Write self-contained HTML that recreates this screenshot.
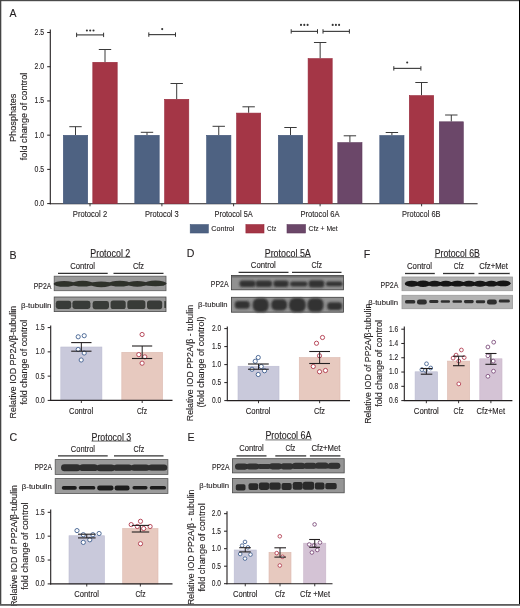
<!DOCTYPE html>
<html><head><meta charset="utf-8"><style>
html,body{margin:0;padding:0;background:#fff;}
svg{display:block;font-family:"Liberation Sans", sans-serif;will-change:transform;}
text{stroke:#231f20;stroke-width:0.12px;}
</style></head><body>
<svg width="520" height="608" viewBox="0 0 520 608">
<defs>
<filter id="bl" x="-20%" y="-50%" width="140%" height="200%"><feGaussianBlur stdDeviation="0.7"/></filter>
<filter id="bl3" x="-20%" y="-50%" width="140%" height="200%"><feGaussianBlur stdDeviation="1.0"/></filter>
<filter id="bl2" x="-20%" y="-50%" width="140%" height="200%"><feGaussianBlur stdDeviation="0.45"/></filter>
</defs>
<rect x="0" y="0" width="520" height="608" fill="#fff"/>
<text x="9.6" y="17" font-size="11.2" text-anchor="start" fill="#231f20" textLength="7" lengthAdjust="spacingAndGlyphs">A</text>
<line x1="50.3" y1="29.6" x2="50.3" y2="204.2" stroke="#231f20" stroke-width="1.1"/>
<line x1="47.2" y1="203.6" x2="50.3" y2="203.6" stroke="#231f20" stroke-width="1"/>
<text x="44.2" y="206.1" font-size="8.3" text-anchor="end" fill="#231f20" textLength="9.6" lengthAdjust="spacingAndGlyphs">0.0</text>
<line x1="47.2" y1="169.38" x2="50.3" y2="169.38" stroke="#231f20" stroke-width="1"/>
<text x="44.2" y="171.88" font-size="8.3" text-anchor="end" fill="#231f20" textLength="9.6" lengthAdjust="spacingAndGlyphs">0.5</text>
<line x1="47.2" y1="135.16" x2="50.3" y2="135.16" stroke="#231f20" stroke-width="1"/>
<text x="44.2" y="137.66" font-size="8.3" text-anchor="end" fill="#231f20" textLength="9.6" lengthAdjust="spacingAndGlyphs">1.0</text>
<line x1="47.2" y1="100.94" x2="50.3" y2="100.94" stroke="#231f20" stroke-width="1"/>
<text x="44.2" y="103.44" font-size="8.3" text-anchor="end" fill="#231f20" textLength="9.6" lengthAdjust="spacingAndGlyphs">1.5</text>
<line x1="47.2" y1="66.72" x2="50.3" y2="66.72" stroke="#231f20" stroke-width="1"/>
<text x="44.2" y="69.22" font-size="8.3" text-anchor="end" fill="#231f20" textLength="9.6" lengthAdjust="spacingAndGlyphs">2.0</text>
<line x1="47.2" y1="32.5" x2="50.3" y2="32.5" stroke="#231f20" stroke-width="1"/>
<text x="44.2" y="35.0" font-size="8.3" text-anchor="end" fill="#231f20" textLength="9.6" lengthAdjust="spacingAndGlyphs">2.5</text>
<line x1="49.8" y1="203.8" x2="477.6" y2="203.8" stroke="#231f20" stroke-width="1.1"/>
<line x1="90.0" y1="203.8" x2="90.0" y2="206.3" stroke="#231f20" stroke-width="0.9"/>
<line x1="161.9" y1="203.8" x2="161.9" y2="206.3" stroke="#231f20" stroke-width="0.9"/>
<line x1="233.6" y1="203.8" x2="233.6" y2="206.3" stroke="#231f20" stroke-width="0.9"/>
<line x1="320.1" y1="203.8" x2="320.1" y2="206.3" stroke="#231f20" stroke-width="0.9"/>
<line x1="421.6" y1="203.8" x2="421.6" y2="206.3" stroke="#231f20" stroke-width="0.9"/>
<line x1="75.5" y1="135.0" x2="75.5" y2="126.7" stroke="#3a3a3a" stroke-width="1.0"/>
<line x1="69.3" y1="126.7" x2="81.7" y2="126.7" stroke="#3a3a3a" stroke-width="1.0"/>
<rect x="63.3" y="135.3" width="24.4" height="68.3" fill="#4e6282" stroke="#425679" stroke-width="0.6"/>
<line x1="105.0" y1="62.0" x2="105.0" y2="49.5" stroke="#3a3a3a" stroke-width="1.0"/>
<line x1="98.8" y1="49.5" x2="111.2" y2="49.5" stroke="#3a3a3a" stroke-width="1.0"/>
<rect x="92.8" y="62.3" width="24.4" height="141.29999999999998" fill="#a43646" stroke="#98283a" stroke-width="0.6"/>
<line x1="147.0" y1="135.0" x2="147.0" y2="132.3" stroke="#3a3a3a" stroke-width="1.0"/>
<line x1="140.8" y1="132.3" x2="153.2" y2="132.3" stroke="#3a3a3a" stroke-width="1.0"/>
<rect x="134.8" y="135.3" width="24.4" height="68.3" fill="#4e6282" stroke="#425679" stroke-width="0.6"/>
<line x1="176.7" y1="99.0" x2="176.7" y2="83.5" stroke="#3a3a3a" stroke-width="1.0"/>
<line x1="170.5" y1="83.5" x2="182.89999999999998" y2="83.5" stroke="#3a3a3a" stroke-width="1.0"/>
<rect x="164.60000000000002" y="99.3" width="24.19999999999998" height="104.3" fill="#a43646" stroke="#98283a" stroke-width="0.6"/>
<line x1="218.75" y1="135.0" x2="218.75" y2="126.3" stroke="#3a3a3a" stroke-width="1.0"/>
<line x1="212.55" y1="126.3" x2="224.95" y2="126.3" stroke="#3a3a3a" stroke-width="1.0"/>
<rect x="206.60000000000002" y="135.3" width="24.299999999999976" height="68.3" fill="#4e6282" stroke="#425679" stroke-width="0.6"/>
<line x1="248.65" y1="112.8" x2="248.65" y2="106.8" stroke="#3a3a3a" stroke-width="1.0"/>
<line x1="242.45000000000002" y1="106.8" x2="254.85" y2="106.8" stroke="#3a3a3a" stroke-width="1.0"/>
<rect x="236.60000000000002" y="113.1" width="24.099999999999987" height="90.5" fill="#a43646" stroke="#98283a" stroke-width="0.6"/>
<line x1="290.5" y1="135.0" x2="290.5" y2="127.5" stroke="#3a3a3a" stroke-width="1.0"/>
<line x1="284.3" y1="127.5" x2="296.7" y2="127.5" stroke="#3a3a3a" stroke-width="1.0"/>
<rect x="278.3" y="135.3" width="24.4" height="68.3" fill="#4e6282" stroke="#425679" stroke-width="0.6"/>
<line x1="320.15" y1="58.3" x2="320.15" y2="42.5" stroke="#3a3a3a" stroke-width="1.0"/>
<line x1="313.95" y1="42.5" x2="326.34999999999997" y2="42.5" stroke="#3a3a3a" stroke-width="1.0"/>
<rect x="308.1" y="58.599999999999994" width="24.099999999999987" height="145.0" fill="#a43646" stroke="#98283a" stroke-width="0.6"/>
<line x1="349.9" y1="142.3" x2="349.9" y2="135.8" stroke="#3a3a3a" stroke-width="1.0"/>
<line x1="343.7" y1="135.8" x2="356.09999999999997" y2="135.8" stroke="#3a3a3a" stroke-width="1.0"/>
<rect x="337.8" y="142.60000000000002" width="24.20000000000001" height="60.999999999999986" fill="#6b4769" stroke="#5e3a5d" stroke-width="0.6"/>
<line x1="391.9" y1="135.2" x2="391.9" y2="132.5" stroke="#3a3a3a" stroke-width="1.0"/>
<line x1="385.7" y1="132.5" x2="398.09999999999997" y2="132.5" stroke="#3a3a3a" stroke-width="1.0"/>
<rect x="379.8" y="135.5" width="24.20000000000001" height="68.10000000000001" fill="#4e6282" stroke="#425679" stroke-width="0.6"/>
<line x1="421.5" y1="95.3" x2="421.5" y2="82.5" stroke="#3a3a3a" stroke-width="1.0"/>
<line x1="415.3" y1="82.5" x2="427.7" y2="82.5" stroke="#3a3a3a" stroke-width="1.0"/>
<rect x="409.3" y="95.6" width="24.4" height="108.0" fill="#a43646" stroke="#98283a" stroke-width="0.6"/>
<line x1="451.3" y1="121.5" x2="451.3" y2="115.0" stroke="#3a3a3a" stroke-width="1.0"/>
<line x1="445.1" y1="115.0" x2="457.5" y2="115.0" stroke="#3a3a3a" stroke-width="1.0"/>
<rect x="439.3" y="121.8" width="24.00000000000002" height="81.8" fill="#6b4769" stroke="#5e3a5d" stroke-width="0.6"/>
<line x1="76.6" y1="34.9" x2="103.6" y2="34.9" stroke="#444" stroke-width="1.2"/>
<line x1="76.6" y1="32.699999999999996" x2="76.6" y2="37.1" stroke="#333" stroke-width="1.0"/>
<line x1="103.6" y1="32.699999999999996" x2="103.6" y2="37.1" stroke="#333" stroke-width="1.0"/>
<circle cx="86.9" cy="30.45" r="1.05" fill="#333"/>
<circle cx="90.2" cy="30.45" r="1.05" fill="#333"/>
<circle cx="93.5" cy="30.45" r="1.05" fill="#333"/>
<line x1="148.8" y1="34.6" x2="175.5" y2="34.6" stroke="#444" stroke-width="1.2"/>
<line x1="148.8" y1="32.4" x2="148.8" y2="36.800000000000004" stroke="#333" stroke-width="1.0"/>
<line x1="175.5" y1="32.4" x2="175.5" y2="36.800000000000004" stroke="#333" stroke-width="1.0"/>
<circle cx="162.2" cy="29.1" r="1.05" fill="#333"/>
<line x1="291.2" y1="31.4" x2="317.5" y2="31.4" stroke="#444" stroke-width="1.2"/>
<line x1="291.2" y1="29.2" x2="291.2" y2="33.6" stroke="#333" stroke-width="1.0"/>
<line x1="317.5" y1="29.2" x2="317.5" y2="33.6" stroke="#333" stroke-width="1.0"/>
<circle cx="301.0" cy="24.9" r="1.05" fill="#333"/>
<circle cx="304.3" cy="24.9" r="1.05" fill="#333"/>
<circle cx="307.6" cy="24.9" r="1.05" fill="#333"/>
<line x1="323.0" y1="31.4" x2="349.4" y2="31.4" stroke="#444" stroke-width="1.2"/>
<line x1="323.0" y1="29.2" x2="323.0" y2="33.6" stroke="#333" stroke-width="1.0"/>
<line x1="349.4" y1="29.2" x2="349.4" y2="33.6" stroke="#333" stroke-width="1.0"/>
<circle cx="332.7" cy="24.9" r="1.05" fill="#333"/>
<circle cx="335.9" cy="24.9" r="1.05" fill="#333"/>
<circle cx="339.1" cy="24.9" r="1.05" fill="#333"/>
<line x1="393.8" y1="68.4" x2="420.9" y2="68.4" stroke="#444" stroke-width="1.2"/>
<line x1="393.8" y1="66.2" x2="393.8" y2="70.60000000000001" stroke="#333" stroke-width="1.0"/>
<line x1="420.9" y1="66.2" x2="420.9" y2="70.60000000000001" stroke="#333" stroke-width="1.0"/>
<circle cx="407.2" cy="62.5" r="1.05" fill="#333"/>
<text x="90.0" y="217.0" font-size="8.9" text-anchor="middle" fill="#231f20" textLength="34.3" lengthAdjust="spacingAndGlyphs">Protocol 2</text>
<text x="161.9" y="217.0" font-size="8.9" text-anchor="middle" fill="#231f20" textLength="33.8" lengthAdjust="spacingAndGlyphs">Protocol 3</text>
<text x="233.6" y="217.0" font-size="8.9" text-anchor="middle" fill="#231f20" textLength="38.2" lengthAdjust="spacingAndGlyphs">Protocol 5A</text>
<text x="320.0" y="217.0" font-size="8.9" text-anchor="middle" fill="#231f20" textLength="39.0" lengthAdjust="spacingAndGlyphs">Protocol 6A</text>
<text x="421.3" y="217.0" font-size="8.9" text-anchor="middle" fill="#231f20" textLength="38.5" lengthAdjust="spacingAndGlyphs">Protocol 6B</text>
<rect x="190.2" y="224.6" width="18.1" height="8.4" fill="#4e6282" stroke="#425679" stroke-width="0.6"/>
<text x="211.3" y="230.9" font-size="7.8" text-anchor="start" fill="#231f20" textLength="23.1" lengthAdjust="spacingAndGlyphs">Control</text>
<rect x="245.9" y="224.6" width="18.1" height="8.4" fill="#a43646" stroke="#98283a" stroke-width="0.6"/>
<text x="267.0" y="230.9" font-size="7.8" text-anchor="start" fill="#231f20" textLength="9.3" lengthAdjust="spacingAndGlyphs">Cfz</text>
<rect x="287.0" y="224.6" width="18.5" height="8.4" fill="#6b4769" stroke="#5e3a5d" stroke-width="0.6"/>
<text x="308.5" y="230.9" font-size="7.8" text-anchor="start" fill="#231f20" textLength="29.2" lengthAdjust="spacingAndGlyphs">Cfz + Met</text>
<text x="16.3" y="117.8" font-size="8.9" text-anchor="middle" fill="#231f20" textLength="48.4" lengthAdjust="spacingAndGlyphs" transform="rotate(-90 16.3 117.8)">Phosphates</text>
<text x="27.1" y="116.5" font-size="8.9" text-anchor="middle" fill="#231f20" textLength="87.5" lengthAdjust="spacingAndGlyphs" transform="rotate(-90 27.1 116.5)">fold change of control</text>
<text x="9.5" y="258.6" font-size="10.6" text-anchor="start" fill="#231f20">B</text>
<text x="110.30000000000001" y="256.7" font-size="10.2" text-anchor="middle" fill="#231f20" textLength="40.000000000000014" lengthAdjust="spacingAndGlyphs">Protocol 2</text>
<line x1="90.3" y1="257.3" x2="130.3" y2="257.3" stroke="#444" stroke-width="0.8"/>
<text x="82.65" y="268.79999999999995" font-size="8.2" text-anchor="middle" fill="#231f20" textLength="24.700000000000003" lengthAdjust="spacingAndGlyphs">Control</text>
<text x="138.5" y="268.79999999999995" font-size="8.2" text-anchor="middle" fill="#231f20" textLength="11.0" lengthAdjust="spacingAndGlyphs">Cfz</text>
<line x1="58.0" y1="273.3" x2="107.7" y2="273.3" stroke="#333" stroke-width="1.3"/>
<line x1="113.5" y1="273.3" x2="163.5" y2="273.3" stroke="#333" stroke-width="1.3"/>
<rect x="54.2" y="276.2" width="111.8" height="14.5" fill="#9a9a9a" stroke="#5a5a5a" stroke-width="0.8"/>
<rect x="55.5" y="282.6" width="109.69999999999999" height="2.7999999999999545" rx="1.5" fill="#2f302c" filter="url(#bl)"/>
<ellipse cx="64.20" cy="283.90" rx="10.60" ry="2.90" fill="#2f302c" filter="url(#bl)"/>
<ellipse cx="82.60" cy="283.70" rx="10.80" ry="2.90" fill="#2f302c" filter="url(#bl)"/>
<ellipse cx="101.20" cy="284.30" rx="10.80" ry="2.90" fill="#2f302c" filter="url(#bl)"/>
<ellipse cx="119.70" cy="283.60" rx="10.70" ry="2.90" fill="#2f302c" filter="url(#bl)"/>
<ellipse cx="137.30" cy="283.85" rx="9.90" ry="2.85" fill="#2f302c" filter="url(#bl)"/>
<ellipse cx="155.50" cy="283.40" rx="11.10" ry="2.80" fill="#2f302c" filter="url(#bl)"/>
<rect x="54.2" y="297.0" width="111.8" height="14.600000000000023" fill="#9a9a9a" stroke="#4a4a4a" stroke-width="0.8"/>
<rect x="55.8" y="300.8" width="15.400000000000006" height="8.199999999999989" rx="2.46" ry="2.46" fill="#393b37" filter="url(#bl)"/>
<rect x="72.4" y="300.7" width="18.0" height="8.300000000000011" rx="2.49" ry="2.49" fill="#393b37" filter="url(#bl)"/>
<rect x="92.6" y="301.0" width="16.400000000000006" height="8.199999999999989" rx="2.46" ry="2.46" fill="#393b37" filter="url(#bl)"/>
<rect x="110.6" y="300.4" width="15.100000000000009" height="8.600000000000023" rx="2.58" ry="2.58" fill="#393b37" filter="url(#bl)"/>
<rect x="127.3" y="300.3" width="18.10000000000001" height="8.699999999999989" rx="2.61" ry="2.61" fill="#393b37" filter="url(#bl)"/>
<rect x="147.0" y="300.6" width="15.199999999999989" height="8.599999999999966" rx="2.58" ry="2.58" fill="#393b37" filter="url(#bl)"/>
<rect x="164.3" y="301" width="1.6999999999999886" height="7" rx="0.51" ry="0.51" fill="#393b37" filter="url(#bl)"/>
<text x="51.4" y="289.4" font-size="8.2" text-anchor="end" fill="#231f20" textLength="17.7" lengthAdjust="spacingAndGlyphs">PP2A</text>
<text x="51.5" y="307.7" font-size="7.6" text-anchor="end" fill="#231f20" textLength="30.6" lengthAdjust="spacingAndGlyphs">β-tubulin</text>
<rect x="60.8" y="347.0" width="41.10000000000001" height="53.39999999999998" fill="#c9c9db" stroke="#bcbcd2" stroke-width="0.6"/>
<rect x="121.8" y="352.3" width="40.8" height="48.099999999999966" fill="#e7c9bf" stroke="#dcbab0" stroke-width="0.6"/>
<line x1="50.7" y1="325.4" x2="50.7" y2="400.9" stroke="#231f20" stroke-width="1.1"/>
<line x1="50.2" y1="400.4" x2="172.5" y2="400.4" stroke="#231f20" stroke-width="1.1"/>
<line x1="47.7" y1="400.4" x2="50.7" y2="400.4" stroke="#231f20" stroke-width="1"/>
<text x="44.7" y="402.79999999999995" font-size="8.3" text-anchor="end" fill="#231f20" textLength="9.2" lengthAdjust="spacingAndGlyphs">0.0</text>
<line x1="47.7" y1="376.135" x2="50.7" y2="376.135" stroke="#231f20" stroke-width="1"/>
<text x="44.7" y="378.53499999999997" font-size="8.3" text-anchor="end" fill="#231f20" textLength="9.2" lengthAdjust="spacingAndGlyphs">0.5</text>
<line x1="47.7" y1="351.87" x2="50.7" y2="351.87" stroke="#231f20" stroke-width="1"/>
<text x="44.7" y="354.27" font-size="8.3" text-anchor="end" fill="#231f20" textLength="9.2" lengthAdjust="spacingAndGlyphs">1.0</text>
<line x1="47.7" y1="327.60499999999996" x2="50.7" y2="327.60499999999996" stroke="#231f20" stroke-width="1"/>
<text x="44.7" y="330.00499999999994" font-size="8.3" text-anchor="end" fill="#231f20" textLength="9.2" lengthAdjust="spacingAndGlyphs">1.5</text>
<line x1="81.35" y1="400.4" x2="81.35" y2="403.0" stroke="#231f20" stroke-width="0.9"/>
<circle cx="78.2" cy="336.8" r="2.1" fill="#fff" stroke="#3f5f8f" stroke-width="0.9"/>
<circle cx="84.2" cy="335.7" r="2.1" fill="#fff" stroke="#3f5f8f" stroke-width="0.9"/>
<circle cx="78.2" cy="349.5" r="2.1" fill="#fff" stroke="#3f5f8f" stroke-width="0.9"/>
<circle cx="84.2" cy="353.0" r="2.1" fill="#fff" stroke="#3f5f8f" stroke-width="0.9"/>
<circle cx="81.2" cy="360.0" r="2.1" fill="#fff" stroke="#3f5f8f" stroke-width="0.9"/>
<line x1="81.35" y1="342.6" x2="81.35" y2="351.2" stroke="#231f20" stroke-width="1.0"/>
<line x1="71.2" y1="342.6" x2="91.5" y2="342.6" stroke="#231f20" stroke-width="1.1"/>
<line x1="71.2" y1="351.2" x2="91.5" y2="351.2" stroke="#231f20" stroke-width="1.1"/>
<line x1="142.2" y1="400.4" x2="142.2" y2="403.0" stroke="#231f20" stroke-width="0.9"/>
<circle cx="142.1" cy="334.5" r="2.1" fill="#fff" stroke="#b0384b" stroke-width="0.9"/>
<circle cx="138.8" cy="354.6" r="2.1" fill="#fff" stroke="#b0384b" stroke-width="0.9"/>
<circle cx="144.8" cy="356.9" r="2.1" fill="#fff" stroke="#b0384b" stroke-width="0.9"/>
<circle cx="142.1" cy="363.2" r="2.1" fill="#fff" stroke="#b0384b" stroke-width="0.9"/>
<line x1="142.2" y1="346.0" x2="142.2" y2="358.5" stroke="#231f20" stroke-width="1.0"/>
<line x1="132.0" y1="346.0" x2="152.2" y2="346.0" stroke="#231f20" stroke-width="1.1"/>
<line x1="132.0" y1="358.5" x2="152.2" y2="358.5" stroke="#231f20" stroke-width="1.1"/>
<text x="81.1" y="413.5" font-size="8.2" text-anchor="middle" fill="#231f20" textLength="24.3" lengthAdjust="spacingAndGlyphs">Control</text>
<text x="142.0" y="413.5" font-size="8.2" text-anchor="middle" fill="#231f20" textLength="10.0" lengthAdjust="spacingAndGlyphs">Cfz</text>
<text x="16.5" y="362.15" font-size="9.0" text-anchor="middle" fill="#231f20" textLength="112.5" lengthAdjust="spacingAndGlyphs" transform="rotate(-90 16.5 362.15)">Relative IOD PP2A/β-tubulin</text>
<text x="27.5" y="362.15" font-size="9.0" text-anchor="middle" fill="#231f20" textLength="84.9" lengthAdjust="spacingAndGlyphs" transform="rotate(-90 27.5 362.15)">fold change of control</text>
<text x="9.5" y="441.3" font-size="10.6" text-anchor="start" fill="#231f20">C</text>
<text x="111.35" y="440.5" font-size="10.2" text-anchor="middle" fill="#231f20" textLength="39.69999999999999" lengthAdjust="spacingAndGlyphs">Protocol 3</text>
<line x1="91.5" y1="441.1" x2="131.2" y2="441.1" stroke="#444" stroke-width="0.8"/>
<text x="82.9" y="451.79999999999995" font-size="8.2" text-anchor="middle" fill="#231f20" textLength="24.200000000000003" lengthAdjust="spacingAndGlyphs">Control</text>
<text x="138.85" y="451.79999999999995" font-size="8.2" text-anchor="middle" fill="#231f20" textLength="10.699999999999989" lengthAdjust="spacingAndGlyphs">Cfz</text>
<line x1="58.0" y1="455.8" x2="107.7" y2="455.8" stroke="#333" stroke-width="1.3"/>
<line x1="114.0" y1="455.8" x2="163.5" y2="455.8" stroke="#333" stroke-width="1.3"/>
<rect x="55.2" y="459.6" width="112.7" height="14.799999999999955" fill="#9b9b9b" stroke="#555" stroke-width="0.8"/>
<rect x="62.0" y="465.4" width="104.80000000000001" height="4.800000000000011" rx="1.5" fill="#2e2e2e" filter="url(#bl)"/>
<rect x="61.0" y="464.3" width="19.400000000000006" height="6.899999999999977" rx="3.45" ry="3.45" fill="#2e2e2e" filter="url(#bl)"/>
<rect x="79.4" y="464.3" width="18.39999999999999" height="6.699999999999989" rx="3.35" ry="3.35" fill="#2e2e2e" filter="url(#bl)"/>
<rect x="96.8" y="464.6" width="18.0" height="6.599999999999966" rx="3.30" ry="3.30" fill="#2e2e2e" filter="url(#bl)"/>
<rect x="113.6" y="464.5" width="18.400000000000006" height="6.300000000000011" rx="3.15" ry="3.15" fill="#2e2e2e" filter="url(#bl)"/>
<rect x="131.0" y="464.4" width="18.400000000000006" height="6.400000000000034" rx="3.20" ry="3.20" fill="#2e2e2e" filter="url(#bl)"/>
<rect x="148.4" y="464.6" width="18.799999999999983" height="6.0" rx="3.00" ry="3.00" fill="#2e2e2e" filter="url(#bl)"/>
<rect x="55.2" y="478.6" width="112.7" height="14.899999999999977" fill="#9b9b9b" stroke="#555" stroke-width="0.8"/>
<rect x="61.8" y="486.0" width="15.0" height="3.8000000000000114" rx="1.71" ry="1.71" fill="#1e1e1e" filter="url(#bl2)"/>
<rect x="78.8" y="486.0" width="16.5" height="3.6000000000000227" rx="1.62" ry="1.62" fill="#1e1e1e" filter="url(#bl2)"/>
<rect x="97.2" y="485.6" width="16.299999999999997" height="4.7999999999999545" rx="2.16" ry="2.16" fill="#1e1e1e" filter="url(#bl2)"/>
<rect x="114.6" y="485.4" width="15.0" height="5.2000000000000455" rx="2.34" ry="2.34" fill="#1e1e1e" filter="url(#bl2)"/>
<rect x="132.5" y="486.0" width="15.0" height="3.3999999999999773" rx="1.53" ry="1.53" fill="#1e1e1e" filter="url(#bl2)"/>
<rect x="149.8" y="486.0" width="16.19999999999999" height="3.6000000000000227" rx="1.62" ry="1.62" fill="#1e1e1e" filter="url(#bl2)"/>
<text x="51.9" y="469.5" font-size="8.2" text-anchor="end" fill="#231f20" textLength="17.3" lengthAdjust="spacingAndGlyphs">PP2A</text>
<text x="51.9" y="489.1" font-size="7.6" text-anchor="end" fill="#231f20" textLength="30.1" lengthAdjust="spacingAndGlyphs">β-tubulin</text>
<rect x="69.0" y="535.75" width="35.5" height="48.14999999999998" fill="#c9c9db" stroke="#bcbcd2" stroke-width="0.6"/>
<rect x="122.7" y="528.5" width="35.3" height="55.39999999999998" fill="#e7c9bf" stroke="#dcbab0" stroke-width="0.6"/>
<line x1="50.7" y1="509.5" x2="50.7" y2="584.4" stroke="#231f20" stroke-width="1.1"/>
<line x1="50.2" y1="583.9" x2="172.5" y2="583.9" stroke="#231f20" stroke-width="1.1"/>
<line x1="47.7" y1="583.9" x2="50.7" y2="583.9" stroke="#231f20" stroke-width="1"/>
<text x="44.7" y="586.3" font-size="8.3" text-anchor="end" fill="#231f20" textLength="9.2" lengthAdjust="spacingAndGlyphs">0.0</text>
<line x1="47.7" y1="560.035" x2="50.7" y2="560.035" stroke="#231f20" stroke-width="1"/>
<text x="44.7" y="562.435" font-size="8.3" text-anchor="end" fill="#231f20" textLength="9.2" lengthAdjust="spacingAndGlyphs">0.5</text>
<line x1="47.7" y1="536.17" x2="50.7" y2="536.17" stroke="#231f20" stroke-width="1"/>
<text x="44.7" y="538.5699999999999" font-size="8.3" text-anchor="end" fill="#231f20" textLength="9.2" lengthAdjust="spacingAndGlyphs">1.0</text>
<line x1="47.7" y1="512.305" x2="50.7" y2="512.305" stroke="#231f20" stroke-width="1"/>
<text x="44.7" y="514.7049999999999" font-size="8.3" text-anchor="end" fill="#231f20" textLength="9.2" lengthAdjust="spacingAndGlyphs">1.5</text>
<line x1="86.75" y1="583.9" x2="86.75" y2="586.5" stroke="#231f20" stroke-width="0.9"/>
<circle cx="77.0" cy="530.6" r="2.1" fill="#fff" stroke="#3f5f8f" stroke-width="0.9"/>
<circle cx="83.3" cy="534.7" r="2.1" fill="#fff" stroke="#3f5f8f" stroke-width="0.9"/>
<circle cx="92.9" cy="534.7" r="2.1" fill="#fff" stroke="#3f5f8f" stroke-width="0.9"/>
<circle cx="99.1" cy="533.5" r="2.1" fill="#fff" stroke="#3f5f8f" stroke-width="0.9"/>
<circle cx="89.8" cy="539.8" r="2.1" fill="#fff" stroke="#3f5f8f" stroke-width="0.9"/>
<circle cx="83.3" cy="542.4" r="2.1" fill="#fff" stroke="#3f5f8f" stroke-width="0.9"/>
<line x1="86.75" y1="534.2" x2="86.75" y2="537.9" stroke="#231f20" stroke-width="1.0"/>
<line x1="78.0" y1="534.2" x2="95.6" y2="534.2" stroke="#231f20" stroke-width="1.1"/>
<line x1="78.0" y1="537.9" x2="95.6" y2="537.9" stroke="#231f20" stroke-width="1.1"/>
<line x1="140.35" y1="583.9" x2="140.35" y2="586.5" stroke="#231f20" stroke-width="0.9"/>
<circle cx="140.5" cy="521.3" r="2.1" fill="#fff" stroke="#b0384b" stroke-width="0.9"/>
<circle cx="131.2" cy="524.6" r="2.1" fill="#fff" stroke="#b0384b" stroke-width="0.9"/>
<circle cx="137.3" cy="526.5" r="2.1" fill="#fff" stroke="#b0384b" stroke-width="0.9"/>
<circle cx="150.1" cy="526.5" r="2.1" fill="#fff" stroke="#b0384b" stroke-width="0.9"/>
<circle cx="143.7" cy="528.5" r="2.1" fill="#fff" stroke="#b0384b" stroke-width="0.9"/>
<circle cx="140.5" cy="543.7" r="2.1" fill="#fff" stroke="#b0384b" stroke-width="0.9"/>
<line x1="140.35" y1="525.4" x2="140.35" y2="532.0" stroke="#231f20" stroke-width="1.0"/>
<line x1="131.8" y1="525.4" x2="149.2" y2="525.4" stroke="#231f20" stroke-width="1.1"/>
<line x1="131.8" y1="532.0" x2="149.2" y2="532.0" stroke="#231f20" stroke-width="1.1"/>
<text x="86.6" y="596.8" font-size="8.2" text-anchor="middle" fill="#231f20" textLength="24.5" lengthAdjust="spacingAndGlyphs">Control</text>
<text x="140.5" y="596.8" font-size="8.2" text-anchor="middle" fill="#231f20" textLength="10.0" lengthAdjust="spacingAndGlyphs">Cfz</text>
<text x="17.2" y="545.9" font-size="9.0" text-anchor="middle" fill="#231f20" textLength="121.9" lengthAdjust="spacingAndGlyphs" transform="rotate(-90 17.2 545.9)">Relative IOD of PP2A/β-tubulin</text>
<text x="27.6" y="546.1" font-size="9.0" text-anchor="middle" fill="#231f20" textLength="87.4" lengthAdjust="spacingAndGlyphs" transform="rotate(-90 27.6 546.1)">fold change of control</text>
<text x="186.8" y="257.1" font-size="10.6" text-anchor="start" fill="#231f20">D</text>
<text x="287.75" y="256.7" font-size="10.2" text-anchor="middle" fill="#231f20" textLength="46.10000000000002" lengthAdjust="spacingAndGlyphs">Protocol 5A</text>
<line x1="264.7" y1="257.2" x2="310.8" y2="257.2" stroke="#444" stroke-width="0.8"/>
<text x="263.3" y="268.09999999999997" font-size="8.2" text-anchor="middle" fill="#231f20" textLength="25.0" lengthAdjust="spacingAndGlyphs">Control</text>
<text x="316.75" y="268.09999999999997" font-size="8.2" text-anchor="middle" fill="#231f20" textLength="10.5" lengthAdjust="spacingAndGlyphs">Cfz</text>
<line x1="238.6" y1="272.40000000000003" x2="288.5" y2="272.40000000000003" stroke="#333" stroke-width="1.3"/>
<line x1="292.0" y1="272.40000000000003" x2="341.5" y2="272.40000000000003" stroke="#333" stroke-width="1.3"/>
<rect x="231.4" y="275.4" width="112.1" height="14.400000000000034" fill="#919191" stroke="#3d3d3d" stroke-width="0.8"/>
<rect x="231.9" y="275.9" width="111.1" height="1.6" fill="#555" opacity="0.6"/>
<rect x="239.5" y="280.4" width="16.099999999999994" height="6.600000000000023" rx="2.64" ry="2.64" fill="#333" filter="url(#bl3)"/>
<rect x="255.6" y="280.6" width="16.400000000000006" height="6.2999999999999545" rx="2.52" ry="2.52" fill="#333" filter="url(#bl3)"/>
<rect x="273.4" y="280.4" width="15.200000000000045" height="6.600000000000023" rx="2.64" ry="2.64" fill="#333" filter="url(#bl3)"/>
<rect x="290.2" y="281.4" width="17.19999999999999" height="5.0" rx="2.00" ry="2.00" fill="#333" filter="url(#bl3)"/>
<rect x="308.6" y="280.2" width="15.799999999999955" height="7.199999999999989" rx="2.88" ry="2.88" fill="#333" filter="url(#bl3)"/>
<rect x="326.0" y="281.4" width="16.399999999999977" height="4.900000000000034" rx="1.96" ry="1.96" fill="#333" filter="url(#bl3)"/>
<rect x="231.4" y="297.3" width="112.1" height="14.899999999999977" fill="#929292" stroke="#3d3d3d" stroke-width="0.8"/>
<rect x="234.8" y="301.0" width="15.0" height="7.800000000000011" rx="3.28" ry="3.28" fill="#313131" filter="url(#bl3)"/>
<rect x="252.6" y="298.2" width="16.200000000000017" height="13.800000000000011" rx="5.80" ry="5.80" fill="#313131" filter="url(#bl3)"/>
<rect x="271.2" y="299.3" width="16.0" height="11.199999999999989" rx="4.70" ry="4.70" fill="#313131" filter="url(#bl3)"/>
<rect x="289.0" y="298.1" width="16.80000000000001" height="13.899999999999977" rx="5.84" ry="5.84" fill="#313131" filter="url(#bl3)"/>
<rect x="307.4" y="298.2" width="16.200000000000045" height="13.600000000000023" rx="5.71" ry="5.71" fill="#313131" filter="url(#bl3)"/>
<rect x="327.2" y="302.2" width="14.800000000000011" height="7.699999999999989" rx="3.23" ry="3.23" fill="#313131" filter="url(#bl3)"/>
<text x="228.6" y="287.0" font-size="8.2" text-anchor="end" fill="#231f20" textLength="17.8" lengthAdjust="spacingAndGlyphs">PP2A</text>
<text x="227.6" y="306.7" font-size="7.6" text-anchor="end" fill="#231f20" textLength="29.5" lengthAdjust="spacingAndGlyphs">β-tubulin</text>
<rect x="238.0" y="366.25" width="41.0" height="34.35000000000002" fill="#c9c9db" stroke="#bcbcd2" stroke-width="0.6"/>
<rect x="299.25" y="357.5" width="40.75" height="43.10000000000002" fill="#e7c9bf" stroke="#dcbab0" stroke-width="0.6"/>
<line x1="227.3" y1="326.5" x2="227.3" y2="401.1" stroke="#231f20" stroke-width="1.1"/>
<line x1="226.8" y1="400.6" x2="350.0" y2="400.6" stroke="#231f20" stroke-width="1.1"/>
<line x1="224.3" y1="400.6" x2="227.3" y2="400.6" stroke="#231f20" stroke-width="1"/>
<text x="221.3" y="403.0" font-size="8.3" text-anchor="end" fill="#231f20" textLength="9.2" lengthAdjust="spacingAndGlyphs">0.0</text>
<line x1="224.3" y1="382.6" x2="227.3" y2="382.6" stroke="#231f20" stroke-width="1"/>
<text x="221.3" y="385.0" font-size="8.3" text-anchor="end" fill="#231f20" textLength="9.2" lengthAdjust="spacingAndGlyphs">0.5</text>
<line x1="224.3" y1="364.6" x2="227.3" y2="364.6" stroke="#231f20" stroke-width="1"/>
<text x="221.3" y="367.0" font-size="8.3" text-anchor="end" fill="#231f20" textLength="9.2" lengthAdjust="spacingAndGlyphs">1.0</text>
<line x1="224.3" y1="346.6" x2="227.3" y2="346.6" stroke="#231f20" stroke-width="1"/>
<text x="221.3" y="349.0" font-size="8.3" text-anchor="end" fill="#231f20" textLength="9.2" lengthAdjust="spacingAndGlyphs">1.5</text>
<line x1="224.3" y1="328.6" x2="227.3" y2="328.6" stroke="#231f20" stroke-width="1"/>
<text x="221.3" y="331.0" font-size="8.3" text-anchor="end" fill="#231f20" textLength="9.2" lengthAdjust="spacingAndGlyphs">2.0</text>
<line x1="258.5" y1="400.6" x2="258.5" y2="403.20000000000005" stroke="#231f20" stroke-width="0.9"/>
<circle cx="258.25" cy="357.5" r="2.1" fill="#fff" stroke="#3f5f8f" stroke-width="0.9"/>
<circle cx="255.25" cy="361.25" r="2.1" fill="#fff" stroke="#3f5f8f" stroke-width="0.9"/>
<circle cx="261.25" cy="366.5" r="2.1" fill="#fff" stroke="#3f5f8f" stroke-width="0.9"/>
<circle cx="252.0" cy="369.25" r="2.1" fill="#fff" stroke="#3f5f8f" stroke-width="0.9"/>
<circle cx="264.5" cy="370.75" r="2.1" fill="#fff" stroke="#3f5f8f" stroke-width="0.9"/>
<circle cx="258.25" cy="374.5" r="2.1" fill="#fff" stroke="#3f5f8f" stroke-width="0.9"/>
<line x1="258.5" y1="364.0" x2="258.5" y2="369.25" stroke="#231f20" stroke-width="1.0"/>
<line x1="248.0" y1="364.0" x2="268.75" y2="364.0" stroke="#231f20" stroke-width="1.1"/>
<line x1="248.0" y1="369.25" x2="268.75" y2="369.25" stroke="#231f20" stroke-width="1.1"/>
<line x1="319.625" y1="400.6" x2="319.625" y2="403.20000000000005" stroke="#231f20" stroke-width="0.9"/>
<circle cx="322.5" cy="337.5" r="2.1" fill="#fff" stroke="#b0384b" stroke-width="0.9"/>
<circle cx="316.5" cy="343.25" r="2.1" fill="#fff" stroke="#b0384b" stroke-width="0.9"/>
<circle cx="319.5" cy="355.75" r="2.1" fill="#fff" stroke="#b0384b" stroke-width="0.9"/>
<circle cx="313.25" cy="366.5" r="2.1" fill="#fff" stroke="#b0384b" stroke-width="0.9"/>
<circle cx="319.5" cy="371.75" r="2.1" fill="#fff" stroke="#b0384b" stroke-width="0.9"/>
<circle cx="325.5" cy="370.5" r="2.1" fill="#fff" stroke="#b0384b" stroke-width="0.9"/>
<line x1="319.625" y1="351.5" x2="319.625" y2="363.5" stroke="#231f20" stroke-width="1.0"/>
<line x1="309.25" y1="351.5" x2="330.0" y2="351.5" stroke="#231f20" stroke-width="1.1"/>
<line x1="309.25" y1="363.5" x2="330.0" y2="363.5" stroke="#231f20" stroke-width="1.1"/>
<text x="258.1" y="413.75" font-size="8.2" text-anchor="middle" fill="#231f20" textLength="24.75" lengthAdjust="spacingAndGlyphs">Control</text>
<text x="319.5" y="413.75" font-size="8.2" text-anchor="middle" fill="#231f20" textLength="11.0" lengthAdjust="spacingAndGlyphs">Cfz</text>
<text x="193.1" y="363.05" font-size="9.0" text-anchor="middle" fill="#231f20" textLength="116.3" lengthAdjust="spacingAndGlyphs" transform="rotate(-90 193.1 363.05)">Relative IOD PP2A/β - tubulin</text>
<text x="203.9" y="362.0" font-size="9.0" text-anchor="middle" fill="#231f20" textLength="90.9" lengthAdjust="spacingAndGlyphs" transform="rotate(-90 203.9 362.0)">(fold change of control)</text>
<text x="187.5" y="441.0" font-size="10.6" text-anchor="start" fill="#231f20">E</text>
<text x="288.45" y="439.4" font-size="10.2" text-anchor="middle" fill="#231f20" textLength="46.10000000000002" lengthAdjust="spacingAndGlyphs">Protocol 6A</text>
<line x1="265.4" y1="439.90000000000003" x2="311.5" y2="439.90000000000003" stroke="#444" stroke-width="0.8"/>
<text x="251.55" y="451.0" font-size="8.2" text-anchor="middle" fill="#231f20" textLength="24.5" lengthAdjust="spacingAndGlyphs">Control</text>
<text x="290.45" y="451.0" font-size="8.2" text-anchor="middle" fill="#231f20" textLength="9.899999999999977" lengthAdjust="spacingAndGlyphs">Cfz</text>
<text x="325.95" y="451.0" font-size="8.2" text-anchor="middle" fill="#231f20" textLength="28.899999999999977" lengthAdjust="spacingAndGlyphs">Cfz+Met</text>
<line x1="236.5" y1="455.90000000000003" x2="266.5" y2="455.90000000000003" stroke="#333" stroke-width="1.3"/>
<line x1="275.3" y1="455.90000000000003" x2="306.2" y2="455.90000000000003" stroke="#333" stroke-width="1.3"/>
<line x1="309.9" y1="455.90000000000003" x2="340.4" y2="455.90000000000003" stroke="#333" stroke-width="1.3"/>
<rect x="232.5" y="458.7" width="111.69999999999999" height="14.199999999999989" fill="#959595" stroke="#4a4a4a" stroke-width="0.8"/>
<rect x="236.0" y="464.2" width="103.39999999999998" height="4.199999999999989" rx="1.5" fill="#303030" filter="url(#bl)"/>
<rect x="235.0" y="463.6" width="12.599999999999994" height="6.099999999999966" rx="3.05" ry="3.05" fill="#303030" filter="url(#bl)"/>
<rect x="246.4" y="463.4" width="12.599999999999994" height="6.100000000000023" rx="3.05" ry="3.05" fill="#303030" filter="url(#bl)"/>
<rect x="258.0" y="464.0" width="12.399999999999977" height="5.0" rx="2.50" ry="2.50" fill="#303030" filter="url(#bl)"/>
<rect x="269.2" y="463.3" width="12.800000000000011" height="6.099999999999966" rx="3.05" ry="3.05" fill="#303030" filter="url(#bl)"/>
<rect x="280.6" y="463.2" width="12.799999999999955" height="6.199999999999989" rx="3.10" ry="3.10" fill="#303030" filter="url(#bl)"/>
<rect x="292.2" y="462.8" width="12.800000000000011" height="6.199999999999989" rx="3.10" ry="3.10" fill="#303030" filter="url(#bl)"/>
<rect x="303.8" y="462.8" width="12.599999999999966" height="6.0" rx="3.00" ry="3.00" fill="#303030" filter="url(#bl)"/>
<rect x="315.2" y="462.6" width="13.199999999999989" height="6.0" rx="3.00" ry="3.00" fill="#303030" filter="url(#bl)"/>
<rect x="328.0" y="462.7" width="12.399999999999977" height="6.100000000000023" rx="3.05" ry="3.05" fill="#303030" filter="url(#bl)"/>
<rect x="232.5" y="478.4" width="111.69999999999999" height="14.400000000000034" fill="#959595" stroke="#4a4a4a" stroke-width="0.8"/>
<rect x="235.8" y="484.3" width="9.699999999999989" height="6.099999999999966" rx="1.71" ry="1.71" fill="#2a2a2a" filter="url(#bl)"/>
<rect x="248.5" y="483.3" width="9.699999999999989" height="6.699999999999989" rx="1.88" ry="1.88" fill="#2a2a2a" filter="url(#bl)"/>
<rect x="258.9" y="482.4" width="10.300000000000011" height="7.600000000000023" rx="2.13" ry="2.13" fill="#2a2a2a" filter="url(#bl)"/>
<rect x="269.3" y="482.6" width="11.399999999999977" height="7.199999999999989" rx="2.02" ry="2.02" fill="#2a2a2a" filter="url(#bl)"/>
<rect x="281.5" y="483.0" width="10.199999999999989" height="7.0" rx="1.96" ry="1.96" fill="#2a2a2a" filter="url(#bl)"/>
<rect x="292.7" y="482.0" width="10.0" height="7.800000000000011" rx="2.18" ry="2.18" fill="#2a2a2a" filter="url(#bl)"/>
<rect x="302.8" y="481.8" width="11.399999999999977" height="8.0" rx="2.24" ry="2.24" fill="#2a2a2a" filter="url(#bl)"/>
<rect x="314.9" y="482.6" width="9.600000000000023" height="6.7999999999999545" rx="1.90" ry="1.90" fill="#2a2a2a" filter="url(#bl)"/>
<rect x="325.3" y="483.1" width="11.399999999999977" height="6.099999999999966" rx="1.71" ry="1.71" fill="#2a2a2a" filter="url(#bl)"/>
<text x="229.5" y="469.6" font-size="8.2" text-anchor="end" fill="#231f20" textLength="17.6" lengthAdjust="spacingAndGlyphs">PP2A</text>
<text x="229.0" y="487.7" font-size="7.6" text-anchor="end" fill="#231f20" textLength="29.8" lengthAdjust="spacingAndGlyphs">β-tubulin</text>
<rect x="234.2" y="550.0" width="22.100000000000023" height="33.700000000000045" fill="#c9c9db" stroke="#bcbcd2" stroke-width="0.6"/>
<rect x="269.0" y="552.3" width="22.0" height="31.40000000000009" fill="#e7c9bf" stroke="#dcbab0" stroke-width="0.6"/>
<rect x="303.7" y="543.2" width="22.100000000000023" height="40.5" fill="#d4c3d5" stroke="#c8b5c9" stroke-width="0.6"/>
<line x1="227.0" y1="511.3" x2="227.0" y2="584.2" stroke="#231f20" stroke-width="1.1"/>
<line x1="226.5" y1="583.7" x2="332.5" y2="583.7" stroke="#231f20" stroke-width="1.1"/>
<line x1="224.0" y1="583.7" x2="227.0" y2="583.7" stroke="#231f20" stroke-width="1"/>
<text x="221.0" y="586.1" font-size="8.3" text-anchor="end" fill="#231f20" textLength="9.2" lengthAdjust="spacingAndGlyphs">0.0</text>
<line x1="224.0" y1="566.2" x2="227.0" y2="566.2" stroke="#231f20" stroke-width="1"/>
<text x="221.0" y="568.6" font-size="8.3" text-anchor="end" fill="#231f20" textLength="9.2" lengthAdjust="spacingAndGlyphs">0.5</text>
<line x1="224.0" y1="548.7" x2="227.0" y2="548.7" stroke="#231f20" stroke-width="1"/>
<text x="221.0" y="551.1" font-size="8.3" text-anchor="end" fill="#231f20" textLength="9.2" lengthAdjust="spacingAndGlyphs">1.0</text>
<line x1="224.0" y1="531.2" x2="227.0" y2="531.2" stroke="#231f20" stroke-width="1"/>
<text x="221.0" y="533.6" font-size="8.3" text-anchor="end" fill="#231f20" textLength="9.2" lengthAdjust="spacingAndGlyphs">1.5</text>
<line x1="224.0" y1="513.7" x2="227.0" y2="513.7" stroke="#231f20" stroke-width="1"/>
<text x="221.0" y="516.1" font-size="8.3" text-anchor="end" fill="#231f20" textLength="9.2" lengthAdjust="spacingAndGlyphs">2.0</text>
<line x1="245.25" y1="583.7" x2="245.25" y2="586.3000000000001" stroke="#231f20" stroke-width="0.9"/>
<circle cx="245.0" cy="541.9" r="1.8" fill="#fff" stroke="#3f5f8f" stroke-width="0.85"/>
<circle cx="242.1" cy="545.6" r="1.8" fill="#fff" stroke="#3f5f8f" stroke-width="0.85"/>
<circle cx="247.9" cy="547.3" r="1.8" fill="#fff" stroke="#3f5f8f" stroke-width="0.85"/>
<circle cx="240.2" cy="554.0" r="1.8" fill="#fff" stroke="#3f5f8f" stroke-width="0.85"/>
<circle cx="250.5" cy="554.6" r="1.8" fill="#fff" stroke="#3f5f8f" stroke-width="0.85"/>
<circle cx="245.0" cy="558.6" r="1.8" fill="#fff" stroke="#3f5f8f" stroke-width="0.85"/>
<line x1="245.25" y1="547.7" x2="245.25" y2="551.9" stroke="#231f20" stroke-width="1.0"/>
<line x1="239.2" y1="547.7" x2="250.8" y2="547.7" stroke="#231f20" stroke-width="1.1"/>
<line x1="239.2" y1="551.9" x2="250.8" y2="551.9" stroke="#231f20" stroke-width="1.1"/>
<line x1="280.0" y1="583.7" x2="280.0" y2="586.3000000000001" stroke="#231f20" stroke-width="0.9"/>
<circle cx="279.8" cy="536.3" r="1.8" fill="#fff" stroke="#b0384b" stroke-width="0.85"/>
<circle cx="276.7" cy="553.1" r="1.8" fill="#fff" stroke="#b0384b" stroke-width="0.85"/>
<circle cx="282.5" cy="556.8" r="1.8" fill="#fff" stroke="#b0384b" stroke-width="0.85"/>
<circle cx="279.8" cy="565.5" r="1.8" fill="#fff" stroke="#b0384b" stroke-width="0.85"/>
<line x1="280.0" y1="547.8" x2="280.0" y2="557.1" stroke="#231f20" stroke-width="1.0"/>
<line x1="274.4" y1="547.8" x2="286.0" y2="547.8" stroke="#231f20" stroke-width="1.1"/>
<line x1="274.4" y1="557.1" x2="286.0" y2="557.1" stroke="#231f20" stroke-width="1.1"/>
<line x1="314.75" y1="583.7" x2="314.75" y2="586.3000000000001" stroke="#231f20" stroke-width="0.9"/>
<circle cx="314.6" cy="524.4" r="1.8" fill="#fff" stroke="#774676" stroke-width="0.85"/>
<circle cx="309.2" cy="544.5" r="1.8" fill="#fff" stroke="#774676" stroke-width="0.85"/>
<circle cx="314.2" cy="545.4" r="1.8" fill="#fff" stroke="#774676" stroke-width="0.85"/>
<circle cx="320.0" cy="542.5" r="1.8" fill="#fff" stroke="#774676" stroke-width="0.85"/>
<circle cx="317.3" cy="550.0" r="1.8" fill="#fff" stroke="#774676" stroke-width="0.85"/>
<circle cx="311.9" cy="552.5" r="1.8" fill="#fff" stroke="#774676" stroke-width="0.85"/>
<line x1="314.75" y1="539.5" x2="314.75" y2="547.3" stroke="#231f20" stroke-width="1.0"/>
<line x1="309.2" y1="539.5" x2="320.0" y2="539.5" stroke="#231f20" stroke-width="1.1"/>
<line x1="309.2" y1="547.3" x2="320.0" y2="547.3" stroke="#231f20" stroke-width="1.1"/>
<text x="245.2" y="596.7" font-size="8.2" text-anchor="middle" fill="#231f20" textLength="24.5" lengthAdjust="spacingAndGlyphs">Control</text>
<text x="280.0" y="596.7" font-size="8.2" text-anchor="middle" fill="#231f20" textLength="10.0" lengthAdjust="spacingAndGlyphs">Cfz</text>
<text x="315.0" y="596.7" font-size="8.2" text-anchor="middle" fill="#231f20" textLength="30.0" lengthAdjust="spacingAndGlyphs">Cfz +Met</text>
<text x="193.8" y="547.25" font-size="9.0" text-anchor="middle" fill="#231f20" textLength="115.5" lengthAdjust="spacingAndGlyphs" transform="rotate(-90 193.8 547.25)">Relative IOD PP2A/β - tubulin</text>
<text x="205.0" y="547.4" font-size="9.0" text-anchor="middle" fill="#231f20" textLength="88.4" lengthAdjust="spacingAndGlyphs" transform="rotate(-90 205.0 547.4)">fold change of control</text>
<text x="363.7" y="258.0" font-size="10.6" text-anchor="start" fill="#231f20">F</text>
<text x="457.29999999999995" y="257.1" font-size="10.2" text-anchor="middle" fill="#231f20" textLength="45.19999999999999" lengthAdjust="spacingAndGlyphs">Protocol 6B</text>
<line x1="434.7" y1="257.6" x2="479.9" y2="257.6" stroke="#444" stroke-width="0.8"/>
<text x="419.5" y="268.9" font-size="8.2" text-anchor="middle" fill="#231f20" textLength="25.0" lengthAdjust="spacingAndGlyphs">Control</text>
<text x="458.8" y="268.9" font-size="8.2" text-anchor="middle" fill="#231f20" textLength="10.0" lengthAdjust="spacingAndGlyphs">Cfz</text>
<text x="493.6" y="268.9" font-size="8.2" text-anchor="middle" fill="#231f20" textLength="28.80000000000001" lengthAdjust="spacingAndGlyphs">Cfz+Met</text>
<line x1="405.0" y1="273.5" x2="434.8" y2="273.5" stroke="#333" stroke-width="1.3"/>
<line x1="443.0" y1="273.5" x2="474.4" y2="273.5" stroke="#333" stroke-width="1.3"/>
<line x1="478.5" y1="273.5" x2="509.7" y2="273.5" stroke="#333" stroke-width="1.3"/>
<rect x="402.0" y="277.0" width="110.60000000000002" height="13.699999999999989" fill="#b2b2b2" stroke="#9a9a9a" stroke-width="0.8"/>
<rect x="407.0" y="282.0" width="101.60000000000002" height="3.3999999999999773" rx="1.5" fill="#141414" filter="url(#bl)"/>
<ellipse cx="411.80" cy="283.70" rx="7.00" ry="3.00" fill="#141414" filter="url(#bl)"/>
<ellipse cx="423.10" cy="283.75" rx="7.10" ry="3.15" fill="#141414" filter="url(#bl)"/>
<ellipse cx="434.60" cy="283.65" rx="7.00" ry="2.85" fill="#141414" filter="url(#bl)"/>
<ellipse cx="445.90" cy="283.65" rx="6.90" ry="2.85" fill="#141414" filter="url(#bl)"/>
<ellipse cx="457.45" cy="283.65" rx="7.35" ry="2.85" fill="#141414" filter="url(#bl)"/>
<ellipse cx="468.95" cy="283.65" rx="6.75" ry="2.85" fill="#141414" filter="url(#bl)"/>
<ellipse cx="480.00" cy="283.75" rx="7.00" ry="2.95" fill="#141414" filter="url(#bl)"/>
<ellipse cx="491.30" cy="283.65" rx="6.70" ry="2.85" fill="#141414" filter="url(#bl)"/>
<ellipse cx="503.20" cy="283.35" rx="7.40" ry="2.95" fill="#141414" filter="url(#bl)"/>
<rect x="402.0" y="295.3" width="110.60000000000002" height="13.399999999999977" fill="#b2b2b2" stroke="#9a9a9a" stroke-width="0.8"/>
<rect x="405.0" y="300.0" width="10.300000000000011" height="3.6000000000000227" rx="1.62" ry="1.62" fill="#2e2e2e" filter="url(#bl2)"/>
<rect x="417.0" y="299.6" width="9.800000000000011" height="5.0" rx="2.25" ry="2.25" fill="#2e2e2e" filter="url(#bl2)"/>
<rect x="429.2" y="300.0" width="9.199999999999989" height="3.0" rx="1.35" ry="1.35" fill="#2e2e2e" filter="url(#bl2)"/>
<rect x="440.7" y="300.3" width="9.300000000000011" height="2.5" rx="1.12" ry="1.12" fill="#2e2e2e" filter="url(#bl2)"/>
<rect x="452.5" y="300.3" width="9.5" height="2.5" rx="1.12" ry="1.12" fill="#2e2e2e" filter="url(#bl2)"/>
<rect x="464.0" y="300.0" width="9.699999999999989" height="3.1999999999999886" rx="1.44" ry="1.44" fill="#2e2e2e" filter="url(#bl2)"/>
<rect x="475.8" y="300.2" width="9.399999999999977" height="3.0" rx="1.35" ry="1.35" fill="#2e2e2e" filter="url(#bl2)"/>
<rect x="487.0" y="299.4" width="9.800000000000011" height="5.0" rx="2.25" ry="2.25" fill="#2e2e2e" filter="url(#bl2)"/>
<rect x="498.8" y="299.6" width="11.0" height="3.0" rx="1.35" ry="1.35" fill="#2e2e2e" filter="url(#bl2)"/>
<text x="398.3" y="287.8" font-size="8.2" text-anchor="end" fill="#231f20" textLength="17.7" lengthAdjust="spacingAndGlyphs">PP2A</text>
<text x="398.0" y="305.0" font-size="7.6" text-anchor="end" fill="#231f20" textLength="29.8" lengthAdjust="spacingAndGlyphs">β-tubulin</text>
<rect x="415.1" y="371.8" width="22.5" height="28.80000000000001" fill="#c9c9db" stroke="#bcbcd2" stroke-width="0.6"/>
<rect x="447.5" y="361.1" width="22.19999999999999" height="39.5" fill="#e7c9bf" stroke="#dcbab0" stroke-width="0.6"/>
<rect x="479.8" y="358.8" width="22.19999999999999" height="41.80000000000001" fill="#d4c3d5" stroke="#c8b5c9" stroke-width="0.6"/>
<line x1="404.3" y1="326.6" x2="404.3" y2="401.1" stroke="#231f20" stroke-width="1.1"/>
<line x1="403.8" y1="400.6" x2="512.4" y2="400.6" stroke="#231f20" stroke-width="1.1"/>
<line x1="401.3" y1="400.6" x2="404.3" y2="400.6" stroke="#231f20" stroke-width="1"/>
<text x="398.3" y="403.0" font-size="8.3" text-anchor="end" fill="#231f20" textLength="9.2" lengthAdjust="spacingAndGlyphs">0.6</text>
<line x1="401.3" y1="386.32" x2="404.3" y2="386.32" stroke="#231f20" stroke-width="1"/>
<text x="398.3" y="388.71999999999997" font-size="8.3" text-anchor="end" fill="#231f20" textLength="9.2" lengthAdjust="spacingAndGlyphs">0.8</text>
<line x1="401.3" y1="372.04" x2="404.3" y2="372.04" stroke="#231f20" stroke-width="1"/>
<text x="398.3" y="374.44" font-size="8.3" text-anchor="end" fill="#231f20" textLength="9.2" lengthAdjust="spacingAndGlyphs">1.0</text>
<line x1="401.3" y1="357.76" x2="404.3" y2="357.76" stroke="#231f20" stroke-width="1"/>
<text x="398.3" y="360.15999999999997" font-size="8.3" text-anchor="end" fill="#231f20" textLength="9.2" lengthAdjust="spacingAndGlyphs">1.2</text>
<line x1="401.3" y1="343.48" x2="404.3" y2="343.48" stroke="#231f20" stroke-width="1"/>
<text x="398.3" y="345.88" font-size="8.3" text-anchor="end" fill="#231f20" textLength="9.2" lengthAdjust="spacingAndGlyphs">1.4</text>
<line x1="401.3" y1="329.20000000000005" x2="404.3" y2="329.20000000000005" stroke="#231f20" stroke-width="1"/>
<text x="398.3" y="331.6" font-size="8.3" text-anchor="end" fill="#231f20" textLength="9.2" lengthAdjust="spacingAndGlyphs">1.6</text>
<line x1="426.35" y1="400.6" x2="426.35" y2="403.20000000000005" stroke="#231f20" stroke-width="0.9"/>
<circle cx="426.5" cy="363.8" r="1.9" fill="#fff" stroke="#3f5f8f" stroke-width="0.85"/>
<circle cx="421.9" cy="369.6" r="1.9" fill="#fff" stroke="#3f5f8f" stroke-width="0.85"/>
<circle cx="430.7" cy="368.0" r="1.9" fill="#fff" stroke="#3f5f8f" stroke-width="0.85"/>
<circle cx="425.4" cy="370.3" r="1.9" fill="#fff" stroke="#3f5f8f" stroke-width="0.85"/>
<line x1="426.35" y1="368.5" x2="426.35" y2="374.2" stroke="#231f20" stroke-width="1.0"/>
<line x1="420.8" y1="368.5" x2="432.3" y2="368.5" stroke="#231f20" stroke-width="1.1"/>
<line x1="420.8" y1="374.2" x2="432.3" y2="374.2" stroke="#231f20" stroke-width="1.1"/>
<line x1="458.6" y1="400.6" x2="458.6" y2="403.20000000000005" stroke="#231f20" stroke-width="0.9"/>
<circle cx="461.4" cy="350.0" r="1.9" fill="#fff" stroke="#b0384b" stroke-width="0.85"/>
<circle cx="456.1" cy="355.1" r="1.9" fill="#fff" stroke="#b0384b" stroke-width="0.85"/>
<circle cx="464.2" cy="357.6" r="1.9" fill="#fff" stroke="#b0384b" stroke-width="0.85"/>
<circle cx="453.1" cy="358.1" r="1.9" fill="#fff" stroke="#b0384b" stroke-width="0.85"/>
<circle cx="458.8" cy="361.1" r="1.9" fill="#fff" stroke="#b0384b" stroke-width="0.85"/>
<circle cx="458.8" cy="383.9" r="1.9" fill="#fff" stroke="#b0384b" stroke-width="0.85"/>
<line x1="458.6" y1="356.2" x2="458.6" y2="365.7" stroke="#231f20" stroke-width="1.0"/>
<line x1="453.0" y1="356.2" x2="464.6" y2="356.2" stroke="#231f20" stroke-width="1.1"/>
<line x1="453.0" y1="365.7" x2="464.6" y2="365.7" stroke="#231f20" stroke-width="1.1"/>
<line x1="490.9" y1="400.6" x2="490.9" y2="403.20000000000005" stroke="#231f20" stroke-width="0.9"/>
<circle cx="493.7" cy="342.2" r="1.9" fill="#fff" stroke="#774676" stroke-width="0.85"/>
<circle cx="487.9" cy="347.0" r="1.9" fill="#fff" stroke="#774676" stroke-width="0.85"/>
<circle cx="487.9" cy="355.8" r="1.9" fill="#fff" stroke="#774676" stroke-width="0.85"/>
<circle cx="493.2" cy="361.1" r="1.9" fill="#fff" stroke="#774676" stroke-width="0.85"/>
<circle cx="493.5" cy="371.2" r="1.9" fill="#fff" stroke="#774676" stroke-width="0.85"/>
<circle cx="487.9" cy="376.3" r="1.9" fill="#fff" stroke="#774676" stroke-width="0.85"/>
<line x1="490.9" y1="353.5" x2="490.9" y2="364.3" stroke="#231f20" stroke-width="1.0"/>
<line x1="485.4" y1="353.5" x2="496.5" y2="353.5" stroke="#231f20" stroke-width="1.1"/>
<line x1="485.4" y1="364.3" x2="496.5" y2="364.3" stroke="#231f20" stroke-width="1.1"/>
<text x="426.3" y="413.5" font-size="8.2" text-anchor="middle" fill="#231f20" textLength="25.0" lengthAdjust="spacingAndGlyphs">Control</text>
<text x="458.6" y="413.5" font-size="8.2" text-anchor="middle" fill="#231f20" textLength="10.2" lengthAdjust="spacingAndGlyphs">Cfz</text>
<text x="490.8" y="413.5" font-size="8.2" text-anchor="middle" fill="#231f20" textLength="28.4" lengthAdjust="spacingAndGlyphs">Cfz+Met</text>
<text x="370.7" y="363.75" font-size="9.0" text-anchor="middle" fill="#231f20" textLength="120.1" lengthAdjust="spacingAndGlyphs" transform="rotate(-90 370.7 363.75)">Relative IOD of PP2A/β-tubulin</text>
<text x="381.9" y="363.35" font-size="9.0" text-anchor="middle" fill="#231f20" textLength="86.9" lengthAdjust="spacingAndGlyphs" transform="rotate(-90 381.9 363.35)">fold change of control</text>
<!-- frame -->
<rect x="0" y="0" width="520" height="1.2" fill="#4a4a4a"/>
<rect x="0" y="0" width="1.3" height="605" fill="#444"/>
<rect x="519" y="0" width="1" height="605" fill="#000"/>
<rect x="0" y="604" width="520" height="1.8" fill="#5c5c5c"/>
</svg>
</body></html>
